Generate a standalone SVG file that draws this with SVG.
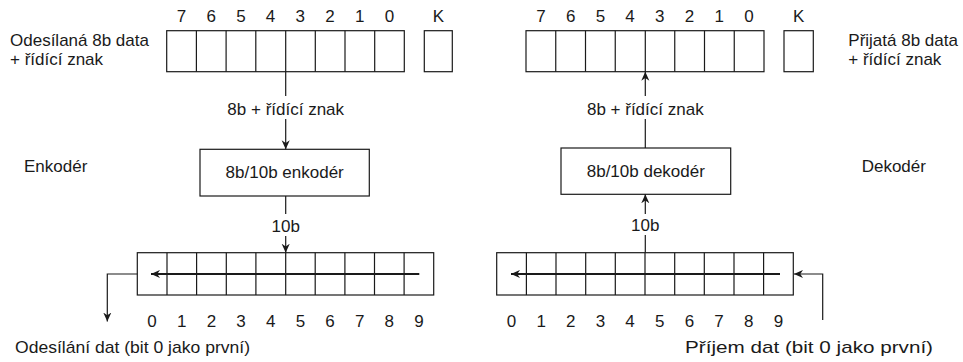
<svg xmlns="http://www.w3.org/2000/svg" width="963" height="362" viewBox="0 0 963 362">
<defs>
<style>
text{font-family:"Liberation Sans",Arial,sans-serif;font-size:17px;fill:#1a1a1a}
.m{text-anchor:middle}
.box{fill:#fff;stroke:#1a1a1a;stroke-width:1.2}
.ln{fill:none;stroke:#1a1a1a;stroke-width:1.2}
.thick{fill:none;stroke:#1a1a1a;stroke-width:2.2}
</style>
<marker id="ah" markerUnits="userSpaceOnUse" markerWidth="9" markerHeight="9" viewBox="0 0 10 10" refX="10" refY="5" orient="auto">
<path d="M0,0.5 L10,5 L0,9.5 L3,5 z" fill="#1a1a1a"/>
</marker>
</defs>
<rect width="963" height="362" fill="#fff"/>

<g id="tx-register">
<rect class="box" x="166.7" y="30.7" width="237.6" height="41"/>
<path class="ln" d="M196.4,30.7V71.7M226.1,30.7V71.7M255.8,30.7V71.7M285.7,30.7V71.7M315.3,30.7V71.7M345,30.7V71.7M374.7,30.7V71.7"/>
<rect class="box" x="424.3" y="30.7" width="28" height="41"/>
<g class="m">
<text x="181.5" y="22">7</text><text x="211.2" y="22">6</text><text x="240.9" y="22">5</text><text x="270.6" y="22">4</text>
<text x="300.3" y="22">3</text><text x="330" y="22">2</text><text x="359.7" y="22">1</text><text x="389.4" y="22">0</text>
<text x="438.3" y="22">K</text>
</g>
<text x="10" y="46">Odesílaná 8b data</text>
<text x="10" y="64.5">+ řídící znak</text>
</g>

<g id="rx-register">
<rect class="box" x="526" y="30.7" width="238" height="41"/>
<path class="ln" d="M555.75,30.7V71.7M585.5,30.7V71.7M615.25,30.7V71.7M645.3,30.7V71.7M674.75,30.7V71.7M704.5,30.7V71.7M734.25,30.7V71.7"/>
<rect class="box" x="784" y="30.7" width="29.3" height="41"/>
<g class="m">
<text x="541" y="22">7</text><text x="570.7" y="22">6</text><text x="600.4" y="22">5</text><text x="630.1" y="22">4</text>
<text x="659.8" y="22">3</text><text x="689.5" y="22">2</text><text x="719.2" y="22">1</text><text x="748.9" y="22">0</text>
<text x="798.7" y="22">K</text>
</g>
<text x="848.3" y="46">Přijatá 8b data</text>
<text x="848.3" y="64.5">+ řídící znak</text>
</g>

<g id="encoder">
<rect class="box" x="200" y="149.3" width="169.3" height="46.7"/>
<text class="m" x="284.7" y="178.3">8b/10b enkodér</text>
<text x="24" y="172">Enkodér</text>
</g>

<g id="decoder">
<rect class="box" x="561" y="148" width="169.7" height="46.3"/>
<text class="m" x="645.8" y="177">8b/10b dekodér</text>
<text x="861.7" y="172">Dekodér</text>
</g>

<g id="tx-shift">
<rect class="box" x="137.3" y="252.7" width="296.4" height="42.3"/>
<path class="ln" d="M167,252.7V295M196.6,252.7V295M226.3,252.7V295M255.9,252.7V295M285.7,252.7V295M315.2,252.7V295M344.9,252.7V295M374.5,252.7V295M404.1,252.7V295"/>
<g class="m">
<text x="152.1" y="327">0</text><text x="181.8" y="327">1</text><text x="211.4" y="327">2</text><text x="241.1" y="327">3</text><text x="270.7" y="327">4</text>
<text x="300.4" y="327">5</text><text x="330" y="327">6</text><text x="359.7" y="327">7</text><text x="389.3" y="327">8</text><text x="419" y="327">9</text>
</g>
<text x="15" y="352.5" textLength="235" lengthAdjust="spacingAndGlyphs">Odesílání dat (bit 0 jako první)</text>
</g>

<g id="rx-shift">
<rect class="box" x="496.7" y="252.7" width="296.6" height="42.3"/>
<path class="ln" d="M526.4,252.7V295M556,252.7V295M585.7,252.7V295M615.3,252.7V295M645,252.7V295M674.7,252.7V295M704.3,252.7V295M734,252.7V295M763.6,252.7V295"/>
<g class="m">
<text x="511.5" y="327">0</text><text x="541.2" y="327">1</text><text x="570.8" y="327">2</text><text x="600.5" y="327">3</text><text x="630.1" y="327">4</text>
<text x="659.8" y="327">5</text><text x="689.5" y="327">6</text><text x="719.1" y="327">7</text><text x="748.8" y="327">8</text><text x="778.4" y="327">9</text>
</g>
<text x="685" y="352.5" textLength="248" lengthAdjust="spacingAndGlyphs">Příjem dat (bit 0 jako první)</text>
</g>

<g id="connectors">
<path class="ln" d="M285.7,71.7V96"/>
<text class="m" x="285.7" y="115">8b + řídící znak</text>
<path class="ln" d="M285.7,119V149.3" marker-end="url(#ah)"/>
<path class="ln" d="M285.7,196V214"/>
<text class="m" x="285.7" y="232">10b</text>
<path class="ln" d="M285.7,236V252.7" marker-end="url(#ah)"/>
<path class="thick" d="M419.3,274H151" marker-end="url(#ah)"/>
<path class="ln" d="M137.3,274H107.3V321.5" marker-end="url(#ah)"/>

<path class="ln" d="M645.3,96V71.7" marker-end="url(#ah)"/>
<text class="m" x="645.3" y="115">8b + řídící znak</text>
<path class="ln" d="M645.3,119V148"/>
<path class="ln" d="M645.3,214V194.3" marker-end="url(#ah)"/>
<text class="m" x="645.3" y="231">10b</text>
<path class="ln" d="M645.3,235V252.7"/>
<path class="thick" d="M780,274H511" marker-end="url(#ah)"/>
<path class="ln" d="M822.7,320V274H794" marker-end="url(#ah)"/>
</g>
</svg>
